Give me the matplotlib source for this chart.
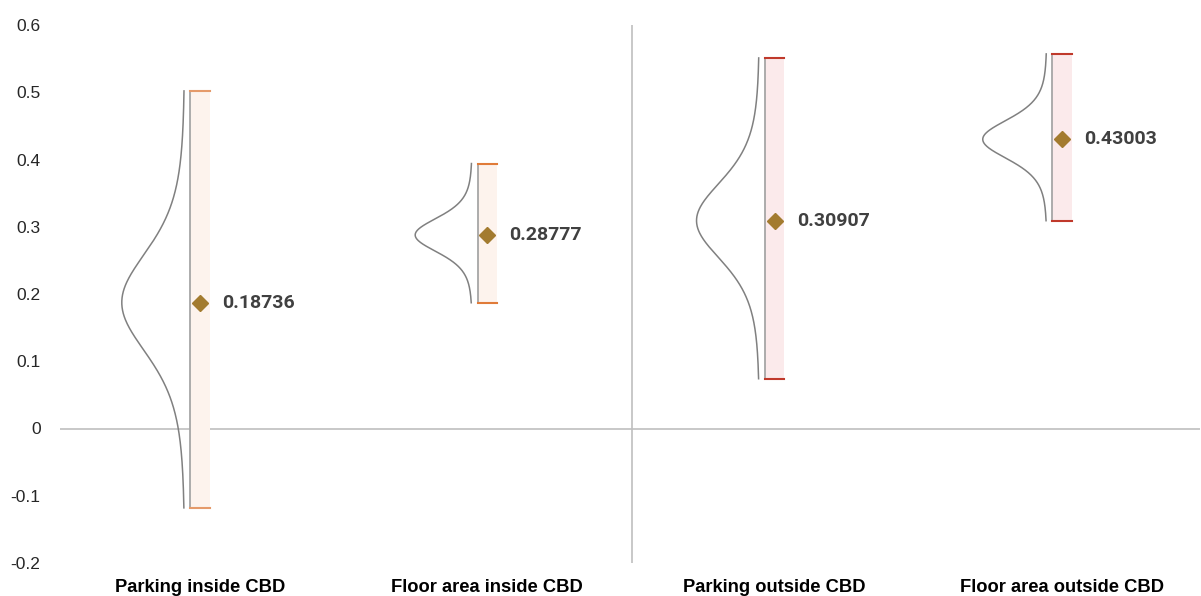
import numpy as np
import matplotlib
matplotlib.use("Agg")
import matplotlib.pyplot as plt

categories = ["Parking inside CBD", "Floor area inside CBD", "Parking outside CBD", "Floor area outside CBD"]
means = [0.18736, 0.28777, 0.30907, 0.43003]
lower = [-0.118, 0.187, 0.074, 0.309]
upper = [0.502, 0.394, 0.551, 0.557]
scales = [0.080, 0.027, 0.062, 0.031]
dof = 6
curve_widths = [0.219, 0.198, 0.219, 0.223]
yticks = [-0.2, -0.1, 0, 0.1, 0.2, 0.3, 0.4, 0.5, 0.6]

fill_colors = ["#fdf3ed", "#fdf3ed", "#fbeaeb", "#fbeaeb"]
cap_colors = ["#e59a6a", "#e07b39", "#c0392b", "#c0392b"]

W, H = 1201, 596
fig = plt.figure(figsize=(W / 100, H / 100), dpi=100)
ax = fig.add_axes([60 / W, 1 - 563 / H, 1140 / W, (563 - 25) / H])
ax.set_xlim(-0.487, 3.48)
ax.set_ylim(-0.2, 0.6)

bar_w = 0.068
gap = 0.019
x = np.arange(len(categories))
for i in range(len(categories)):
    xc = x[i]
    left = xc - bar_w / 2
    ax.bar(xc, upper[i] - lower[i], bottom=lower[i], width=bar_w,
           color=fill_colors[i], edgecolor="none", zorder=2)
    ax.plot([left, left], [lower[i], upper[i]], color="#a6a6a6", lw=1.3, zorder=3)
    ax.plot([left, left + bar_w], [upper[i], upper[i]], color=cap_colors[i], lw=1.5, zorder=3)
    ax.plot([left, left + bar_w], [lower[i], lower[i]], color=cap_colors[i], lw=1.5, zorder=3)
    ys = np.linspace(lower[i], upper[i], 400)
    z = (ys - means[i]) / scales[i]
    dens = (1 + z ** 2 / dof) ** (-(dof + 1) / 2)
    ax.plot(left - gap - curve_widths[i] * dens, ys, color="#808080", lw=1.1, zorder=3)
    ax.plot(xc, means[i], marker="D", ms=8, color="#a37b2f", mec="#a37b2f", zorder=4)
    ax.annotate(f"{means[i]:.5f}", (xc, means[i]), xytext=(16, 0), textcoords="offset points",
                va="center", ha="left", fontsize=14, fontweight="bold", color="#404040",
                family=["Roboto", "DejaVu Sans"])

ax.axhline(0, color="#bfbfbf", lw=1.2, zorder=1)
ax.axvline(1.505, color="#bfbfbf", lw=1.2, zorder=1)

for s in ax.spines.values():
    s.set_visible(False)
ax.set_yticks(yticks)
ax.set_yticklabels([("%g" % v) for v in yticks], family=["Liberation Sans", "DejaVu Sans"],
                   fontsize=12.5, color="#262626")
ax.tick_params(axis="y", length=0, pad=14)
ax.set_xticks(x)
ax.set_xticklabels(categories, family=["Liberation Sans Narrow", "Liberation Sans", "DejaVu Sans"],
                   fontsize=13.2, fontweight="bold", color="#000000")
ax.tick_params(axis="x", length=0, pad=11.5)

fig.savefig("out.png", dpi=100)
